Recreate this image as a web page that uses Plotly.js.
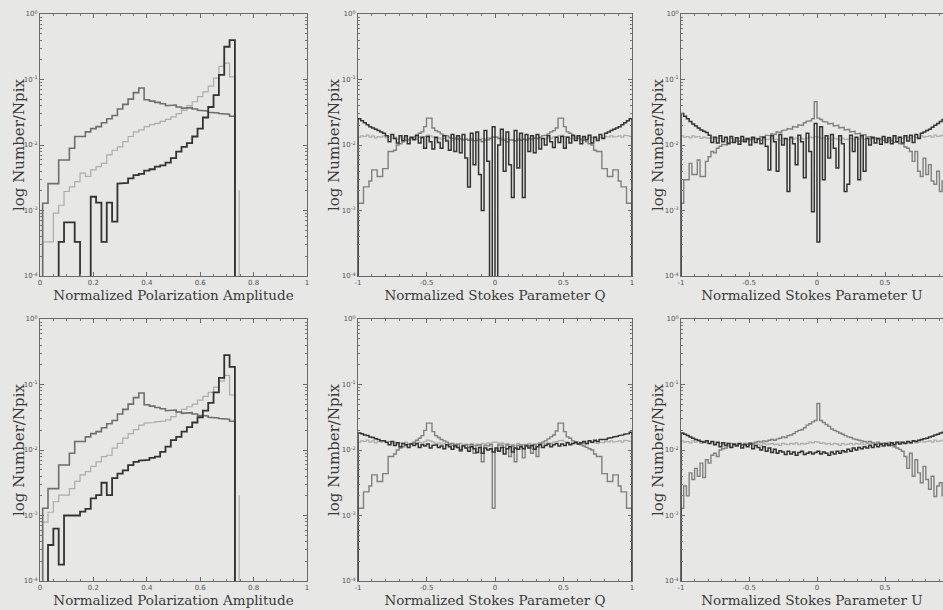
<!DOCTYPE html>
<html>
<head>
<meta charset="utf-8">
<script src="https://cdn.plot.ly/plotly-3.0.1.min.js"></script>
<style>html,body{margin:0;padding:0;background:#e7e7e5;}#chart{width:943px;height:610px;}</style>
</head>
<body>
<div id="chart"></div>
<script>
// ---------- bin definitions ----------
const ampFirstEdge = 0.01, ampBinWidth = 0.02;     // 36 bins, 0.01 .. 0.73
const stokesFirstEdge = -1, stokesBinWidth = 0.02; // 100 bins, -1 .. 1
const EMPTY = -9; // empty bin (log10 below the axis floor)

// ---------- Polarization amplitude (log10 Number/Npix) ----------
const ampMed = [-2.89,-2.59,-2.59,-2.23,-2.23,-2.05,-1.87,-1.87,-1.80,-1.75,-1.72,-1.66,-1.60,-1.55,-1.45,-1.38,-1.30,-1.20,-1.13,-1.31,-1.33,-1.35,-1.37,-1.40,-1.39,-1.42,-1.44,-1.43,-1.45,-1.47,-1.48,-1.50,-1.51,-1.52,-1.53,-1.56];
const ampLightTop = [-3.48,-3.48,-3.04,-2.92,-2.71,-2.64,-2.56,-2.43,-2.48,-2.38,-2.33,-2.28,-2.15,-2.08,-2.03,-1.95,-1.87,-1.80,-1.77,-1.72,-1.69,-1.67,-1.64,-1.61,-1.57,-1.52,-1.47,-1.40,-1.34,-1.26,-1.19,-1.10,-0.98,-0.80,-0.75,-0.96];
const ampDarkTop = [EMPTY,EMPTY,EMPTY,-3.48,-3.18,-3.18,-3.48,EMPTY,EMPTY,-2.79,-2.88,-3.48,-2.88,-3.17,-2.59,-2.58,-2.51,-2.46,-2.44,-2.39,-2.37,-2.33,-2.31,-2.27,-2.20,-2.10,-2.03,-1.97,-1.87,-1.75,-1.58,-1.42,-1.24,-0.93,-0.50,-0.40];
const ampLightBot = [-3.10,-2.95,-2.79,-2.69,-2.69,-2.59,-2.48,-2.38,-2.33,-2.25,-2.18,-2.10,-2.08,-1.97,-1.90,-1.82,-1.75,-1.69,-1.62,-1.59,-1.58,-1.57,-1.56,-1.54,-1.49,-1.42,-1.38,-1.34,-1.30,-1.24,-1.18,-1.12,-1.04,-0.95,-0.86,-1.16];
const ampDarkBot = [EMPTY,-3.45,-3.20,-3.75,-3.00,-3.00,-3.00,-2.94,-2.90,-2.74,-2.69,-2.50,-2.69,-2.43,-2.36,-2.31,-2.23,-2.18,-2.16,-2.15,-2.12,-2.10,-2.03,-1.95,-1.85,-1.80,-1.72,-1.65,-1.58,-1.50,-1.40,-1.28,-1.12,-0.90,-0.55,-0.73];
const ampSpikeAt = 0.746, ampSpikeLog = -2.69;

// ---------- Stokes Q (log10 Number/Npix) ----------
const qDarkTop = [-1.60,-1.63,-1.66,-1.69,-1.72,-1.74,-1.76,-1.78,-1.80,-1.82,
 -1.86,-1.95,-1.84,-1.90,-1.97,-1.86,-1.93,-1.86,-1.98,-1.88,
 -1.92,-1.85,-1.97,-1.88,-2.05,-1.87,-1.95,-2.06,-1.88,-1.96,
 -2.05,-1.86,-1.94,-2.08,-1.84,-2.10,-1.86,-2.12,-1.84,-2.20,
 -2.64,-1.82,-2.30,-1.80,-2.45,-3.00,-1.78,-2.25,EMPTY,-1.72,
 EMPTY,-2.00,-1.76,-2.40,-1.80,-2.30,-2.80,-1.78,-2.35,-1.82,
 -2.80,-1.84,-2.10,-1.86,-2.12,-1.84,-2.06,-1.90,-2.00,-1.86,
 -1.95,-2.04,-1.88,-1.96,-1.87,-2.05,-1.88,-1.97,-1.85,-1.93,
 -1.86,-1.98,-1.87,-1.92,-1.85,-1.97,-1.88,-1.93,-1.84,-1.90,
 -1.82,-1.80,-1.78,-1.76,-1.74,-1.72,-1.69,-1.66,-1.63,-1.60];
const qMedTop = [-2.89,-2.89,-2.64,-2.64,-2.55,-2.38,-2.38,-2.48,-2.48,-2.36,
 -2.36,-2.10,-2.10,-2.08,-2.00,-1.98,-1.95,-1.93,-1.92,-1.90,
 -1.88,-1.86,-1.82,-1.80,-1.72,-1.59,-1.59,-1.74,-1.78,-1.80,
 -1.83,-1.85,-1.86,-1.88,-1.90,-1.89,-1.91,-1.90,-1.92,-1.91,
 -1.93,-1.92,-1.94,-1.93,-1.92,-1.95,-1.93,-1.92,-1.90,-1.88,
 -1.88,-1.90,-1.92,-1.93,-1.95,-1.92,-1.93,-1.94,-1.92,-1.93,
 -1.91,-1.92,-1.90,-1.91,-1.89,-1.90,-1.88,-1.86,-1.85,-1.83,
 -1.80,-1.78,-1.74,-1.59,-1.59,-1.72,-1.80,-1.82,-1.86,-1.88,
 -1.90,-1.92,-1.93,-1.95,-1.98,-2.00,-2.08,-2.10,-2.10,-2.36,
 -2.36,-2.48,-2.48,-2.38,-2.38,-2.55,-2.64,-2.64,-2.89,-2.89];
const qDarkBot = [-1.74,-1.75,-1.77,-1.78,-1.80,-1.81,-1.83,-1.84,-1.86,-1.86,
 -1.88,-1.92,-1.87,-1.93,-1.89,-1.95,-1.90,-1.92,-1.96,-1.91,
 -1.93,-1.90,-1.96,-1.92,-1.94,-1.91,-1.97,-1.93,-1.92,-1.96,
 -1.94,-1.98,-1.92,-1.95,-1.99,-1.93,-1.96,-2.00,-1.94,-1.97,
 -2.02,-1.95,-1.98,-2.04,-1.96,-2.05,-1.97,-2.00,-1.98,-2.03,
 -1.97,-2.02,-1.96,-2.06,-1.98,-1.95,-2.03,-1.97,-1.99,-1.95,
 -1.98,-1.94,-1.97,-1.93,-1.99,-1.95,-1.92,-1.96,-1.93,-1.91,
 -1.95,-1.92,-1.90,-1.94,-1.91,-1.93,-1.89,-1.92,-1.90,-1.88,
 -1.91,-1.89,-1.87,-1.90,-1.86,-1.88,-1.85,-1.87,-1.84,-1.83,
 -1.84,-1.82,-1.81,-1.80,-1.79,-1.78,-1.77,-1.76,-1.75,-1.73];
const qMedBot = [-2.89,-2.89,-2.64,-2.64,-2.55,-2.38,-2.38,-2.48,-2.48,-2.36,
 -2.36,-2.10,-2.10,-2.06,-2.00,-1.97,-1.95,-1.93,-1.91,-1.90,
 -1.88,-1.85,-1.82,-1.78,-1.70,-1.59,-1.59,-1.72,-1.78,-1.81,
 -1.84,-1.86,-1.88,-1.92,-1.90,-1.95,-1.91,-2.02,-1.93,-1.92,
 -1.96,-1.92,-2.05,-1.93,-1.92,-2.18,-1.93,-1.94,-1.92,-2.89,
 -2.00,-1.92,-1.93,-1.96,-1.92,-2.10,-1.94,-2.18,-1.93,-1.92,
 -2.12,-1.92,-1.94,-2.05,-1.92,-2.10,-1.90,-1.88,-1.86,-1.83,
 -1.80,-1.77,-1.71,-1.59,-1.59,-1.72,-1.80,-1.82,-1.86,-1.88,
 -1.90,-1.92,-1.94,-1.96,-1.98,-2.00,-2.06,-2.10,-2.10,-2.36,
 -2.36,-2.48,-2.48,-2.38,-2.38,-2.55,-2.64,-2.64,-2.89,-2.89];
const qLight = [-1.88,-1.86,-1.87,-1.85,-1.88,-1.86,-1.89,-1.87,-1.88,-1.86,
 -1.89,-1.87,-1.90,-1.88,-1.91,-1.89,-1.90,-1.88,-1.92,-1.90,
 -1.89,-1.91,-1.88,-1.90,-1.87,-1.85,-1.86,-1.88,-1.90,-1.89,
 -1.91,-1.90,-1.92,-1.90,-1.93,-1.91,-1.92,-1.90,-1.93,-1.91,
 -1.92,-1.90,-1.93,-1.91,-1.92,-1.90,-1.91,-1.89,-1.90,-1.88,
 -1.88,-1.90,-1.89,-1.91,-1.90,-1.92,-1.91,-1.93,-1.90,-1.92,
 -1.91,-1.93,-1.90,-1.92,-1.90,-1.91,-1.89,-1.90,-1.91,-1.89,
 -1.90,-1.88,-1.87,-1.86,-1.85,-1.87,-1.88,-1.90,-1.89,-1.90,
 -1.88,-1.90,-1.89,-1.91,-1.88,-1.89,-1.87,-1.90,-1.88,-1.89,
 -1.87,-1.88,-1.86,-1.88,-1.87,-1.86,-1.88,-1.85,-1.86,-1.87];

// ---------- Stokes U (log10 Number/Npix) ----------
const uDarkTop = [-1.52,-1.56,-1.60,-1.64,-1.68,-1.71,-1.74,-1.77,-1.79,-1.81,
 -1.85,-1.96,-1.88,-1.97,-1.86,-1.95,-1.88,-1.98,-1.87,-1.96,
 -1.89,-1.99,-1.87,-1.95,-1.90,-2.00,-1.88,-1.96,-1.91,-1.98,
 -1.88,-2.02,-2.38,-1.86,-1.95,-2.40,-1.84,-2.00,-1.90,-2.71,
 -1.88,-1.98,-2.30,-1.85,-1.95,-2.50,-1.82,-2.10,-3.02,-1.67,
 -3.48,-1.72,-2.53,-1.86,-2.20,-1.84,-2.05,-2.35,-1.86,-1.98,
 -2.71,-2.60,-1.85,-2.10,-1.88,-2.53,-1.86,-2.40,-1.90,-2.00,
 -1.88,-1.97,-1.90,-1.99,-1.87,-1.96,-1.89,-1.98,-1.86,-1.95,
 -1.88,-1.97,-1.86,-1.94,-1.85,-1.96,-1.84,-1.90,-1.82,-1.80,
 -1.78,-1.76,-1.73,-1.70,-1.67,-1.64,-1.61,-1.58,-1.55,-1.52];
const uMedTop = [-2.89,-2.53,-2.53,-2.28,-2.45,-2.45,-2.23,-2.48,-2.48,-2.25,
 -2.18,-2.10,-2.12,-2.05,-2.02,-1.99,-2.00,-1.96,-1.95,-1.96,
 -1.94,-1.93,-1.94,-1.92,-1.91,-1.92,-1.90,-1.89,-1.90,-1.87,
 -1.88,-1.85,-1.86,-1.83,-1.84,-1.80,-1.81,-1.78,-1.77,-1.75,
 -1.76,-1.72,-1.73,-1.69,-1.70,-1.66,-1.64,-1.63,-1.60,-1.34,
 -1.59,-1.61,-1.64,-1.65,-1.68,-1.67,-1.71,-1.70,-1.74,-1.73,
 -1.77,-1.76,-1.80,-1.79,-1.83,-1.82,-1.85,-1.84,-1.88,-1.87,
 -1.90,-1.89,-1.91,-1.90,-1.93,-1.92,-1.94,-1.93,-1.96,-1.95,
 -1.98,-1.99,-2.03,-2.05,-2.10,-2.25,-2.10,-2.40,-2.48,-2.20,
 -2.45,-2.30,-2.55,-2.60,-2.40,-2.71,-2.55,-2.70,-2.89,-2.89];
const uDarkBot = [-1.74,-1.76,-1.78,-1.80,-1.82,-1.84,-1.85,-1.87,-1.88,-1.86,
 -1.90,-1.87,-1.92,-1.88,-1.95,-1.89,-1.93,-1.90,-1.96,-1.91,
 -1.94,-1.90,-1.97,-1.92,-1.95,-1.91,-1.98,-1.93,-1.96,-2.00,
 -1.95,-2.02,-1.97,-2.04,-1.99,-2.05,-2.01,-2.03,-2.07,-2.02,
 -2.06,-2.03,-2.08,-2.04,-2.02,-2.07,-2.05,-2.03,-2.06,-2.04,
 -2.02,-2.06,-2.03,-2.05,-2.08,-2.03,-2.06,-2.02,-2.05,-2.01,
 -2.03,-1.99,-2.02,-1.97,-2.00,-1.96,-1.98,-1.95,-1.97,-1.93,
 -1.96,-1.92,-1.95,-1.91,-1.94,-1.90,-1.93,-1.89,-1.92,-1.88,
 -1.91,-1.88,-1.90,-1.87,-1.89,-1.86,-1.87,-1.85,-1.84,-1.83,
 -1.82,-1.80,-1.79,-1.77,-1.76,-1.74,-1.73,-1.72,-1.70,-1.68];
const uMedBot = [-2.89,-2.55,-2.70,-2.35,-2.45,-2.28,-2.40,-2.20,-2.42,-2.15,
 -2.20,-2.08,-2.05,-2.10,-2.00,-1.98,-1.97,-1.94,-1.96,-1.92,
 -1.93,-1.91,-1.92,-1.90,-1.91,-1.89,-1.90,-1.88,-1.87,-1.88,
 -1.86,-1.87,-1.85,-1.84,-1.85,-1.83,-1.82,-1.80,-1.81,-1.78,
 -1.77,-1.75,-1.72,-1.70,-1.69,-1.66,-1.62,-1.60,-1.57,-1.55,
 -1.29,-1.55,-1.58,-1.61,-1.64,-1.68,-1.70,-1.72,-1.74,-1.76,
 -1.78,-1.80,-1.81,-1.83,-1.84,-1.85,-1.86,-1.87,-1.88,-1.87,
 -1.89,-1.90,-1.88,-1.91,-1.90,-1.92,-1.91,-1.93,-1.95,-1.97,
 -1.99,-2.02,-2.10,-2.28,-2.05,-2.40,-2.15,-2.35,-2.50,-2.25,
 -2.45,-2.60,-2.40,-2.71,-2.55,-2.50,-2.70,-2.60,-2.89,-2.89];
const uLight = [-1.86,-1.88,-1.87,-1.89,-1.86,-1.88,-1.87,-1.90,-1.88,-1.89,
 -1.90,-1.88,-1.91,-1.89,-1.90,-1.92,-1.89,-1.91,-1.90,-1.92,
 -1.91,-1.90,-1.92,-1.90,-1.91,-1.89,-1.92,-1.90,-1.91,-1.93,
 -1.90,-1.92,-1.91,-1.90,-1.92,-1.91,-1.93,-1.90,-1.91,-1.92,
 -1.90,-1.91,-1.89,-1.92,-1.90,-1.91,-1.90,-1.88,-1.89,-1.87,
 -1.88,-1.90,-1.89,-1.91,-1.90,-1.92,-1.90,-1.91,-1.93,-1.90,
 -1.92,-1.91,-1.90,-1.92,-1.90,-1.91,-1.89,-1.92,-1.90,-1.91,
 -1.89,-1.91,-1.90,-1.92,-1.89,-1.90,-1.88,-1.91,-1.89,-1.90,
 -1.88,-1.90,-1.89,-1.88,-1.90,-1.87,-1.89,-1.88,-1.86,-1.88,
 -1.87,-1.86,-1.88,-1.85,-1.87,-1.86,-1.85,-1.87,-1.86,-1.85];

// ---------- tick labels and titles ----------
const yTickVals = [1e-4, 1e-3, 1e-2, 1e-1, 1];
const yTickText = ['10<sup>-4</sup>','10<sup>-3</sup>','10<sup>-2</sup>','10<sup>-1</sup>','10<sup>0</sup>'];
const ampTickVals = [0, 0.2, 0.4, 0.6, 0.8, 1];
const ampTickText = ['0','0.2','0.4','0.6','0.8','1'];
const stokesTickVals = [-1, -0.5, 0, 0.5, 1];
const stokesTickText = ['-1','-0.5','0','0.5','1'];
const xTitles = ['Normalized Polarization Amplitude','Normalized Stokes Parameter Q','Normalized Stokes Parameter U'];
const yTitle = 'log Number/Npix';

// ---------- styles ----------
const DARK = '#333333', MED_AMP = '#6e6e6e', MED_STOKES = '#808080', LIGHT = '#acacac';
const FLOOR = 1e-9;

function stepTrace(firstEdge, width, logs, color, lw, xa, ya) {
  const x = [firstEdge], y = [FLOOR];
  logs.forEach((v, i) => {
    const a = firstEdge + i * width, b = a + width;
    const val = Math.pow(10, v);
    x.push(a, b); y.push(val, val);
  });
  x.push(firstEdge + logs.length * width); y.push(FLOOR);
  return {x, y, type:'scatter', mode:'lines', line:{color, width:lw}, xaxis:xa, yaxis:ya, hoverinfo:'skip', showlegend:false};
}
function spikeTrace(at, lg, color, xa, ya) {
  return {x:[at, at], y:[FLOOR, Math.pow(10, lg)], type:'scatter', mode:'lines', line:{color, width:1.2}, xaxis:xa, yaxis:ya, hoverinfo:'skip', showlegend:false};
}

const traces = [
  stepTrace(ampFirstEdge, ampBinWidth, ampLightTop, LIGHT, 1.2, 'x', 'y'),
  stepTrace(ampFirstEdge, ampBinWidth, ampMed, MED_AMP, 1.6, 'x', 'y'),
  stepTrace(ampFirstEdge, ampBinWidth, ampDarkTop, DARK, 1.8, 'x', 'y'),
  spikeTrace(ampSpikeAt, ampSpikeLog, LIGHT, 'x', 'y'),

  stepTrace(stokesFirstEdge, stokesBinWidth, qLight, LIGHT, 1.2, 'x2', 'y2'),
  stepTrace(stokesFirstEdge, stokesBinWidth, qMedTop, MED_STOKES, 1.4, 'x2', 'y2'),
  stepTrace(stokesFirstEdge, stokesBinWidth, qDarkTop, DARK, 1.5, 'x2', 'y2'),

  stepTrace(stokesFirstEdge, stokesBinWidth, uLight, LIGHT, 1.2, 'x3', 'y3'),
  stepTrace(stokesFirstEdge, stokesBinWidth, uMedTop, MED_STOKES, 1.4, 'x3', 'y3'),
  stepTrace(stokesFirstEdge, stokesBinWidth, uDarkTop, DARK, 1.5, 'x3', 'y3'),

  stepTrace(ampFirstEdge, ampBinWidth, ampLightBot, LIGHT, 1.2, 'x4', 'y4'),
  stepTrace(ampFirstEdge, ampBinWidth, ampMed, MED_AMP, 1.6, 'x4', 'y4'),
  stepTrace(ampFirstEdge, ampBinWidth, ampDarkBot, DARK, 1.8, 'x4', 'y4'),
  spikeTrace(ampSpikeAt, ampSpikeLog, LIGHT, 'x4', 'y4'),

  stepTrace(stokesFirstEdge, stokesBinWidth, qLight, LIGHT, 1.2, 'x5', 'y5'),
  stepTrace(stokesFirstEdge, stokesBinWidth, qMedBot, MED_STOKES, 1.4, 'x5', 'y5'),
  stepTrace(stokesFirstEdge, stokesBinWidth, qDarkBot, DARK, 1.5, 'x5', 'y5'),

  stepTrace(stokesFirstEdge, stokesBinWidth, uLight, LIGHT, 1.2, 'x6', 'y6'),
  stepTrace(stokesFirstEdge, stokesBinWidth, uMedBot, MED_STOKES, 1.4, 'x6', 'y6'),
  stepTrace(stokesFirstEdge, stokesBinWidth, uDarkBot, DARK, 1.5, 'x6', 'y6'),
];

const W = 943, H = 610;
const colsPx = [[40, 307], [358, 632], [681, 943]];
const rowsPx = [[14, 276], [319, 581]];
const titleFont = {family:'DejaVu Serif', size:13.5, color:'#3a3a3a'};
const tickFont = {family:'DejaVu Sans', size:7, color:'#555555'};

function xAxis(col, row, kind) {
  const isAmp = kind === 0;
  const range = isAmp ? [0, 1] : (col === 2 ? [-1, -1 + (W - 681) / 136] : [-1, 1]);
  const n = row * 3 + col + 1;
  return {
    domain:[colsPx[col][0] / W, colsPx[col][1] / W],
    anchor:'y' + (n === 1 ? '' : n),
    range, showgrid:false, zeroline:false, showline:true, linecolor:'#6a6a6a', linewidth:1,
    mirror:'ticks', ticks:'inside', ticklen:4, tickcolor:'#6a6a6a',
    tickmode:'array', tickvals:isAmp ? ampTickVals : stokesTickVals, ticktext:isAmp ? ampTickText : stokesTickText,
    tickfont:tickFont,
    minor:{ticks:'inside', ticklen:2, tickcolor:'#777', dtick:isAmp ? 0.05 : 0.1, showgrid:false},
    title:{text:xTitles[kind], font:titleFont, standoff:4},
    automargin:false, fixedrange:true
  };
}
function yAxis(col, row) {
  const n = row * 3 + col + 1;
  return {
    domain:[1 - rowsPx[row][1] / H, 1 - rowsPx[row][0] / H],
    anchor:'x' + (n === 1 ? '' : n),
    type:'log', range:[-4, 0], showgrid:false, zeroline:false, showline:true, linecolor:'#6a6a6a', linewidth:1,
    mirror:col === 2 ? false : 'ticks', ticks:'inside', ticklen:4, tickcolor:'#6a6a6a',
    tickmode:'array', tickvals:yTickVals, ticktext:yTickText, tickfont:tickFont,
    minor:{ticks:'inside', ticklen:2, tickcolor:'#777', dtick:'D1', showgrid:false},
    automargin:false, fixedrange:true
  };
}

const layout = {
  width:W, height:H, margin:{l:0, r:0, t:0, b:0},
  paper_bgcolor:'#e7e7e5', plot_bgcolor:'#e7e7e5', showlegend:false,
  annotations:[]
};
const yTitleX = [19, 334, 658];
for (let row = 0; row < 2; row++) {
  for (let col = 0; col < 3; col++) {
    const n = row * 3 + col + 1;
    const sfx = n === 1 ? '' : n;
    layout['xaxis' + sfx] = xAxis(col, row, col);
    layout['yaxis' + sfx] = yAxis(col, row);
    layout.annotations.push({
      text:yTitle, textangle:-90, xref:'paper', yref:'paper',
      x:yTitleX[col] / W, y:1 - (rowsPx[row][0] + rowsPx[row][1]) / 2 / H,
      xanchor:'center', yanchor:'middle', showarrow:false,
      font:{family:'DejaVu Serif', size:15, color:'#3a3a3a'}
    });
  }
}

Plotly.newPlot('chart', traces, layout, {displayModeBar:false});
</script>
</body>
</html>
